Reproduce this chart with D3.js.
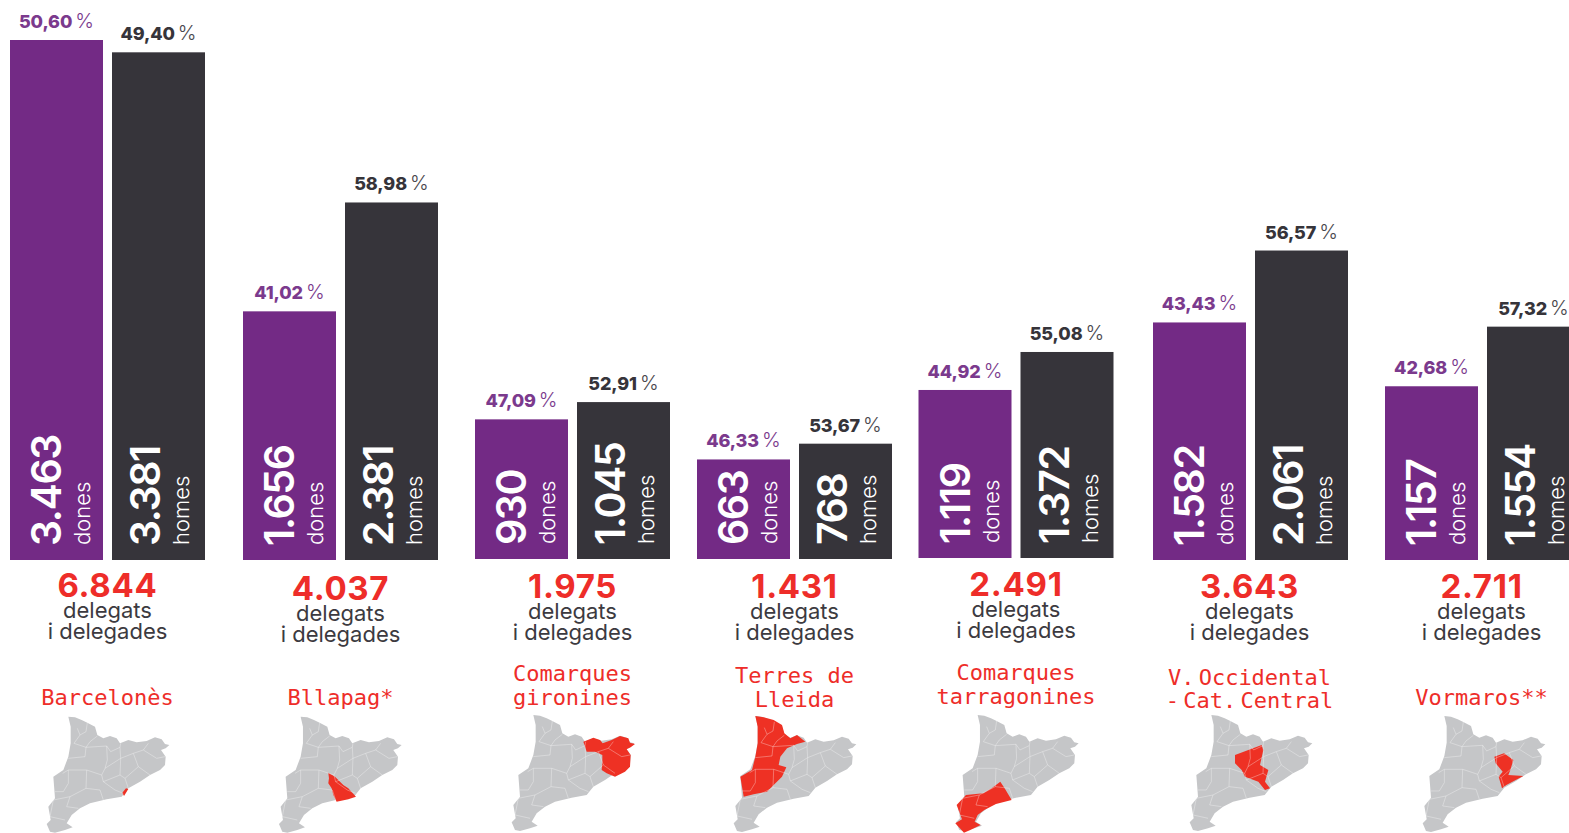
<!DOCTYPE html>
<html><head><meta charset="utf-8">
<script src="https://cdn.jsdelivr.net/npm/d3@7/dist/d3.min.js"></script>
<style>html,body{margin:0;padding:0;background:#fff;overflow:hidden}svg{display:block}</style>
</head><body><svg id="c" width="1569" height="833"></svg>
<script>
// ---------- data ----------
const regionLines = [["Barcelonès"],["Bllapag*"],["Comarques","gironines"],["Terres de","Lleida"],["Comarques","tarragonines"],["V. Occidental","- Cat. Central"],["Vormaros**"]];
const dones = [3463,1656,930,663,1119,1582,1157];
const homes = [3381,2381,1045,768,1372,2061,1554];
const totals = [6844,4037,1975,1431,2491,3643,2711];
const pctDones = ["50,60","41,02","47,09","46,33","44,92","43,43","42,68"];
const pctHomes = ["49,40","58,98","52,91","53,67","55,08","56,57","57,32"];
const fmt = n => d3.format(",")(n).replace(/,/g,".");
// map geometry (abstract map units)
const outline = [[205,170],[225,172],[245,180],[262,188],[285,200],[292,225],[310,235],[330,228],[350,235],[360,250],[385,240],[410,247],[440,243],[465,232],[485,238],[495,252],[508,255],[497,265],[483,270],[497,290],[495,315],[480,330],[450,345],[420,365],[385,385],[365,410],[320,418],[270,430],[240,445],[215,465],[200,490],[218,502],[195,510],[165,518],[150,515],[140,492],[152,480],[145,440],[165,415],[160,350],[190,330],[205,290],[212,250],[212,200]];
const comarcaBorders = [
 [[232,205],[240,225],[222,250],[258,262]],[[262,188],[258,215],[240,225]],
 [[292,228],[270,245],[258,262],[255,290],[205,295]],[[258,262],[320,258],[332,275],[360,262],[362,250]],
 [[320,258],[322,300],[315,325],[305,345],[260,330],[205,330],[188,340]],[[360,262],[362,295],[315,325]],
 [[362,295],[400,280],[430,270],[445,250]],[[430,270],[470,295],[495,290]],[[400,280],[415,320],[450,345]],
 [[362,295],[360,345],[375,355],[415,320]],[[305,345],[310,365],[360,345]],[[375,355],[385,385]],
 [[310,365],[345,390],[370,400]],[[260,330],[258,385],[210,410],[160,420]],[[258,385],[300,390],[310,420]],
 [[205,330],[205,370],[190,395],[165,395]],[[210,410],[200,440],[235,445]],[[160,420],[150,470],[195,480]]
];
const highlighted = [
 [[378,385],[385,387],[372,408],[367,398]],
 [[288,338],[308,350],[333,375],[348,385],[371,410],[348,418],[313,425],[303,405],[298,385],[288,370],[290,355]],
 [[355,250],[385,238],[405,245],[413,255],[440,245],[465,233],[490,240],[495,253],[510,257],[497,267],[485,273],[497,290],[495,325],[480,340],[450,355],[425,345],[410,335],[412,310],[412,290],[390,280],[365,280]],
 [[205,170],[230,174],[260,182],[285,197],[292,222],[310,237],[330,227],[355,247],[330,254],[300,267],[280,292],[275,317],[298,324],[285,352],[260,377],[240,397],[200,405],[170,412],[160,352],[195,332],[205,292],[212,252],[212,202]],
 [[273,370],[286,390],[307,425],[260,437],[225,455],[205,470],[196,490],[214,500],[183,515],[164,523],[138,495],[158,483],[142,440],[170,410],[222,405],[247,390]],
 [[276,290],[316,275],[356,260],[361,275],[351,320],[376,335],[366,370],[381,390],[366,395],[346,370],[306,355],[296,335],[276,315]],
 [[355,292],[384,282],[412,302],[403,332],[397,347],[442,350],[391,377],[378,387],[368,352],[380,337],[359,312]]
];
// ---------- layout ----------
const barLeft = [10,243,475,697,918.5,1153,1385];
const baseY   = [560,560,559,559,558,560,560];
const totalY  = [597,600,598,598,596,598,598];
const labelY  = [[705],[705],[681,705],[683,707],[680,704],[685,708],[705]];
const labelWordSpacing = [0,0,0,0,0,-9,0];
const mapDX   = [0,232.3,465,687,909.3,1143,1376];
const mapDY   = [660,660,658.3,659.3,658.3,658.3,659.3];
const barW=93, gap=9;
const PURPLE="#732a85", DARK="#36343a", RED="#ee2d29", GREY="#c5c6c8";
const SANS="Inter, 'Open Sans', sans-serif", MONO="'DejaVu Sans Mono', monospace";

const svg=d3.select("#c");
const h=d3.scaleLinear().domain([0,3463]).range([0,520]);
const unit=d3.scaleLinear().domain([0,3]).range([0,1]);
const line=d3.line().x(d=>unit(d[0])).y(d=>unit(d[1]));

regionLines.forEach((lines,i)=>{
  const g=svg.append("g").attr("transform",`translate(${barLeft[i]},0)`);
  const series=[{v:dones[i],p:pctDones[i],c:PURPLE,tc:"#7b3a8d",pc:"#7b3a8d",name:"dones",x:0,nx:51,lx:80},
                {v:homes[i],p:pctHomes[i],c:DARK,tc:"#36343a",pc:"#4a484e",name:"homes",x:barW+gap,nx:48,lx:77}];
  series.forEach(s=>{
    const bh=h(s.v), top=baseY[i]-bh;
    g.append("rect").attr("x",s.x).attr("y",top).attr("width",barW).attr("height",bh).attr("fill",s.c);
    const t=g.append("text").attr("x",s.x+barW/2).attr("y",top-12).attr("text-anchor","middle")
      .attr("font-family",SANS).attr("font-size",18);
    t.append("tspan").attr("font-weight",800).attr("fill",s.tc).attr("letter-spacing",-0.1).text(s.p);
    t.append("tspan").attr("font-weight",300).attr("font-size",20).attr("fill",s.pc).attr("dx",3).text("%");
    g.append("text").attr("transform",`translate(${s.x+s.nx},${baseY[i]-14}) rotate(-90)`)
      .attr("font-family",SANS).attr("font-weight",600).attr("font-size",41).attr("letter-spacing",-1.4).attr("fill","#fff").text(fmt(s.v));
    g.append("text").attr("transform",`translate(${s.x+s.lx},${baseY[i]-15}) rotate(-90)`)
      .attr("font-family",SANS).attr("font-weight",300).attr("font-size",22).attr("fill","#fff").text(s.name);
  });
  const cx=barW+gap/2-(i>=5?1:0);
  const tg=svg.append("g").attr("text-anchor","middle").attr("transform",`translate(${barLeft[i]+cx},0)`);
  tg.append("text").attr("y",totalY[i]).attr("font-family",SANS).attr("font-weight",700).attr("font-size",33).attr("letter-spacing",0.7).attr("fill",RED).text(fmt(totals[i]));
  tg.append("text").attr("y",totalY[i]+21).attr("font-family",SANS).attr("font-weight",400).attr("font-size",22).attr("fill","#3c3a40").text("delegats");
  tg.append("text").attr("y",totalY[i]+42).attr("font-family",SANS).attr("font-weight",400).attr("font-size",22).attr("fill","#3c3a40").text("i delegades");
  lines.forEach((l,j)=>tg.append("text").attr("y",labelY[i][j]).attr("font-family",MONO).attr("font-size",22).attr("word-spacing",labelWordSpacing[i]).attr("fill",RED).text(l));
  const m=svg.append("g").attr("transform",`translate(${mapDX[i]},${mapDY[i]})`);
  m.append("path").attr("d",line(outline)+"Z").attr("fill",GREY);
  m.append("path").attr("d",line(highlighted[i])+"Z").attr("fill","#ee3124");
  m.selectAll("path.b").data(comarcaBorders).join("path").attr("class","b").attr("d",line).attr("fill","none").attr("stroke","#fff").attr("stroke-opacity",.4).attr("stroke-width",.8);
});
</script></body></html>
